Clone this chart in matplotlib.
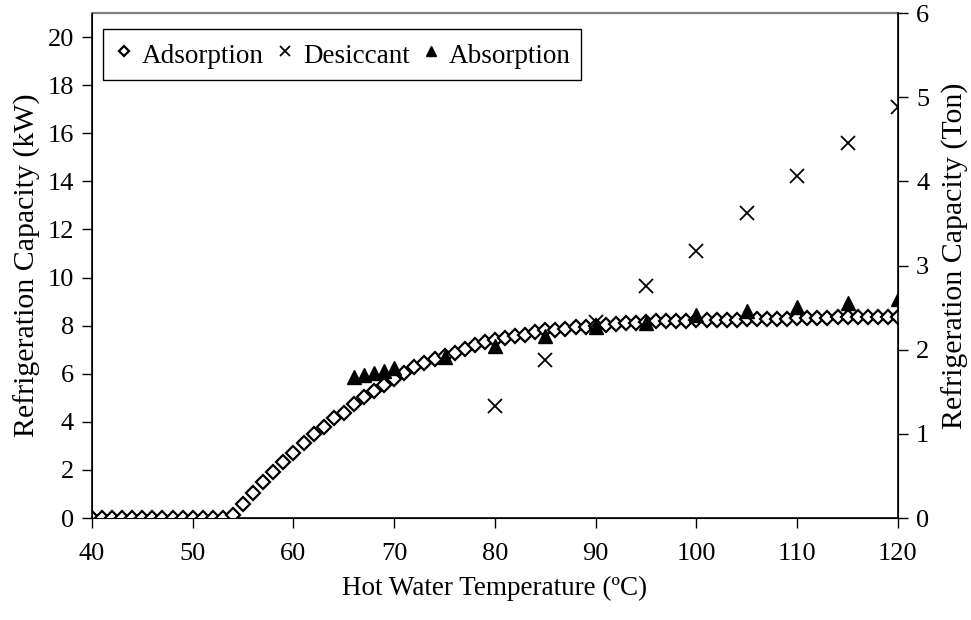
#!/usr/bin/env python3
import matplotlib
matplotlib.use('Agg')
matplotlib.rcParams['font.family'] = 'Liberation Serif'
import matplotlib.pyplot as plt

# hot water temperature (C) for the adsorption chiller model, 1 degree steps
temp_ads = list(range(40, 121))
cap_ads = [0, 0, 0, 0, 0, 0, 0, 0, 0, 0, 0, 0, 0, 0,
           0.12, 0.58, 1.05, 1.51, 1.93, 2.34, 2.69, 3.13, 3.48, 3.80,
           4.15, 4.38, 4.74, 5.02, 5.29, 5.53, 5.79, 6.05, 6.26, 6.45,
           6.62, 6.72, 6.85, 7.01, 7.18, 7.32, 7.40, 7.47, 7.57, 7.62,
           7.74, 7.80, 7.80, 7.86, 7.93, 7.94, 7.98, 8.02, 8.06, 8.11,
           8.12, 8.15, 8.18, 8.20, 8.20, 8.21, 8.22, 8.23, 8.24, 8.24,
           8.25, 8.26, 8.26, 8.27, 8.28, 8.29, 8.31, 8.32, 8.33, 8.33,
           8.34, 8.35, 8.35, 8.36, 8.36, 8.37, 8.37]

# desiccant unit
temp_des = [80, 85, 90, 95, 100, 105, 110, 115, 120]
cap_des = [4.67, 6.57, 8.16, 9.65, 11.11, 12.67, 14.22, 15.61, 17.08]

# absorption chiller
temp_abs = [66, 67, 68, 69, 70, 75, 80, 85, 90, 95, 100, 105, 110, 115, 120]
cap_abs = [5.85, 5.95, 6.02, 6.13, 6.24, 6.71, 7.15, 7.58, 7.95, 8.13,
           8.44, 8.62, 8.79, 8.95, 9.11]

fs = 19.5

fig = plt.figure(figsize=(9.71, 6.2), dpi=100)
ax = fig.add_axes([0.0947, 0.1645, 0.8301, 0.8145])

ax.plot(temp_ads, cap_ads, linestyle='none', marker='D', markersize=6.8,
        markerfacecolor='white', markeredgecolor='black', markeredgewidth=1.6,
        label='Adsorption', zorder=3)
ax.plot(temp_des, cap_des, linestyle='none', marker='x', markersize=9.5,
        color='black', markeredgewidth=1.3, label='Desiccant', zorder=4)
ax.plot(temp_abs, cap_abs, linestyle='none', marker='^', markersize=10,
        color='black', label='Absorption', zorder=4)

ax.set_xlim(40, 120)
ax.set_ylim(0, 21)
ax.set_xticks(range(40, 121, 10))
ax.set_yticks(range(0, 21, 2))
ax.tick_params(direction='out', length=7, width=1, labelsize=19)
ax.tick_params(axis='x', pad=11)
ax.tick_params(axis='y', pad=6)
ax.set_xlabel('Hot Water Temperature (ºC)', fontsize=fs, labelpad=8)
ax.set_ylabel('Refrigeration Capacity (kW)', fontsize=21.5)
ax.yaxis.set_label_coords(-0.063, 0.5)

for side in ['left', 'bottom']:
    ax.spines[side].set_linewidth(1.2)
ax.spines['top'].set_color('#808080')
ax.spines['top'].set_linewidth(1.6)

# second scale in tons of refrigeration
ax2 = ax.twinx()
ax2.set_ylim(0, 6)
ax2.set_yticks(range(0, 7))
ax2.tick_params(direction='out', length=7, width=1, labelsize=19, pad=6)
ax2.set_ylabel('Refrigeration Capacity (Ton)', fontsize=21.5)
ax2.yaxis.set_label_coords(1.054, 0.52)
ax2.spines['right'].set_linewidth(1.2)
ax2.spines['top'].set_visible(False)

leg = ax.legend(loc='upper left', bbox_to_anchor=(0.0136, 0.968), ncol=3,
                fontsize=fs, frameon=True, fancybox=False, edgecolor='black',
                framealpha=1, handlelength=0.8, handleheight=1.3,
                handletextpad=0.25, columnspacing=0.4, borderpad=0.38,
                borderaxespad=0, markerscale=0.72)
leg.get_frame().set_linewidth(1.0)

fig.savefig('out.png', dpi=100)
